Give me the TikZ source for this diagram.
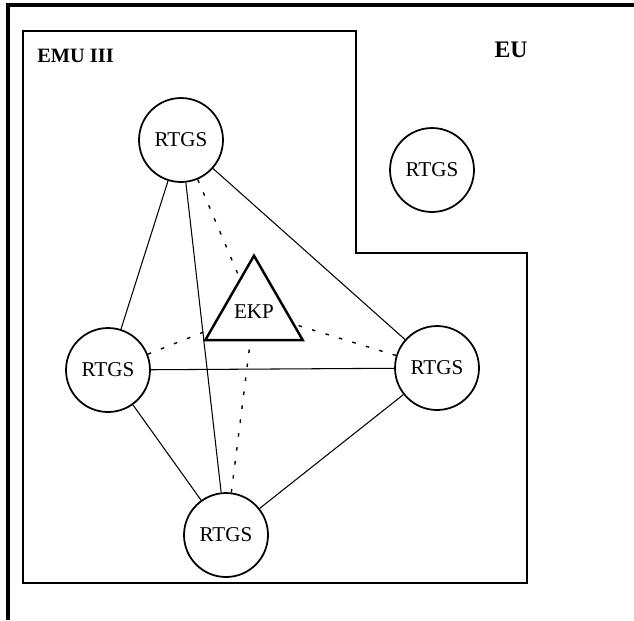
\documentclass[tikz,border=0pt]{standalone}
\usepackage{fontspec}
\setmainfont{Liberation Serif}
\usetikzlibrary{shapes.geometric}
\begin{document}
\begin{tikzpicture}[x=0.02cm,y=-0.02cm,
  rtgs/.style={draw,circle,line width=1pt,minimum size=1.68cm,inner sep=0pt,font=\fontsize{12}{14}\selectfont},
  link/.style={line width=0.6pt},
  hint/.style={line width=0.8pt,dash pattern=on 2pt off 6pt}]
\useasboundingbox (0,0) rectangle (634,620);
% frame and EMU area
\draw[line width=1.8pt] (634,5) -- (8,5) -- (8,620);
\draw[line width=1.2pt] (23,31) -- (356,31) -- (356,253) -- (527,253) -- (527,583) -- (23,583) -- cycle;
\node[font=\bfseries\fontsize{11.6}{13}\selectfont,anchor=base west,inner sep=0pt] (emu) at (37,62) {EMU III};
\node[font=\bfseries\fontsize{13.5}{15}\selectfont,anchor=base,inner sep=0pt] (eu) at (511,57) {EU};
% RTGS systems
\node[rtgs] (t) at (181,140) {RTGS};
\node[rtgs] (eurtgs) at (432,170) {RTGS};
\node[rtgs] (l) at (108,370) {RTGS};
\node[rtgs] (r) at (437,368) {RTGS};
\node[rtgs] (b) at (226,535) {RTGS};
\node[draw,regular polygon,regular polygon sides=3,line width=1.4pt,minimum size=2.12cm,inner sep=0pt,font=\fontsize{12}{14}\selectfont] (ekp) at (254,312) {EKP};
% links
\foreach \a/\b in {t/l,t/b,t/r,l/r,l/b,b/r} \draw[link] (\a) -- (\b);
\foreach \a in {t,l,r,b} \draw[hint] (\a) -- (ekp);
\end{tikzpicture}
\end{document}
